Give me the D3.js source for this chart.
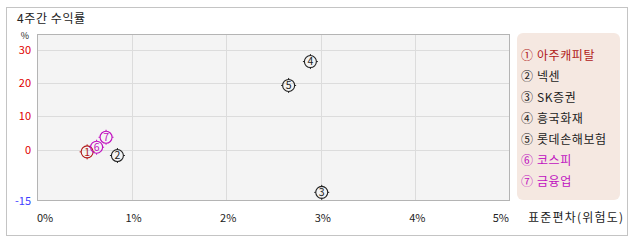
<!DOCTYPE html>
<html>
<head>
<meta charset="utf-8">
<script src="https://cdn.jsdelivr.net/npm/d3@7/dist/d3.min.js"></script>
<style>
  body { margin: 0; background: #fff; }
  text { font-family: "Noto Sans CJK KR", "DejaVu Sans", sans-serif; }
</style>
</head>
<body>
<div id="chart"></div>
<script>
// data
const names = ['아주캐피탈', '넥센', 'SK증권', '흥국화재', '롯데손해보험', '코스피', '금융업'];
const marks = ['①', '②', '③', '④', '⑤', '⑥', '⑦'];
const risk = [0.53, 0.85, 3.01, 2.89, 2.66, 0.63, 0.73];     // 표준편차 (%)
const returns = [-0.7, -1.8, -12.9, 26.5, 19.3, 0.7, 3.7];    // 4주간 수익률 (%)
const colors = ['#b01818', '#222222', '#222222', '#222222', '#222222', '#c010c0', '#c010c0'];
const xTicks = [0, 1, 2, 3, 4, 5];
const yTicks = [30, 20, 10, 0];
const yMinLabel = -15;

const width = 638, height = 242;
const plot = { left: 37, right: 510, top: 34, bottom: 201 };

const svg = d3.select('#chart')
    .append('svg')
    .attr('width', width)
    .attr('height', height);

// outer frame
svg.append('rect')
    .attr('x', 6.5).attr('y', 7.5)
    .attr('width', 621).attr('height', 228)
    .attr('fill', '#fff')
    .attr('stroke', '#c4c4c4');

svg.append('text')
    .attr('x', 17).attr('y', 23)
    .attr('font-size', 12)
    .attr('letter-spacing', 0.6)
    .attr('fill', '#222')
    .text('4주간 수익률');

const x = d3.scaleLinear().domain([0, 5]).range([plot.left, plot.right]);
const y = d3.scaleLinear().domain([-15.5, 34.8]).range([plot.bottom, plot.top]);

svg.append('rect')
    .attr('x', plot.left).attr('y', plot.top)
    .attr('width', plot.right - plot.left).attr('height', plot.bottom - plot.top)
    .attr('fill', '#f4f4f4');

// grid
svg.append('g').selectAll('line')
    .data(xTicks.slice(1, -1))
    .enter().append('line')
    .attr('x1', d => Math.round(x(d)) + 0.5).attr('x2', d => Math.round(x(d)) + 0.5)
    .attr('y1', plot.top).attr('y2', plot.bottom)
    .attr('stroke', '#dcdcdc');

svg.append('g').selectAll('line')
    .data(yTicks)
    .enter().append('line')
    .attr('x1', plot.left).attr('x2', plot.right)
    .attr('y1', d => Math.round(y(d)) + 0.5).attr('y2', d => Math.round(y(d)) + 0.5)
    .attr('stroke', '#dcdcdc');

// plot border
svg.append('rect')
    .attr('x', plot.left + 0.5).attr('y', plot.top + 0.5)
    .attr('width', plot.right - plot.left - 1).attr('height', plot.bottom - plot.top - 1)
    .attr('fill', 'none')
    .attr('stroke', '#b4b4b4');

// y labels
svg.append('text')
    .attr('x', 25).attr('y', 39)
    .attr('text-anchor', 'middle')
    .attr('font-size', 9)
    .attr('fill', '#222')
    .text('%');

svg.append('g').selectAll('text')
    .data(yTicks)
    .enter().append('text')
    .attr('x', 31).attr('y', d => y(d) + 4)
    .attr('text-anchor', 'end')
    .attr('font-size', 11)
    .attr('fill', '#e00000')
    .text(d => d);

svg.append('text')
    .attr('x', 31).attr('y', y(yMinLabel) + 6)
    .attr('text-anchor', 'end')
    .attr('font-size', 11)
    .attr('fill', '#4040ff')
    .text(yMinLabel);

// x labels
svg.append('g').selectAll('text')
    .data(xTicks)
    .enter().append('text')
    .attr('x', (d, i) => i === 0 ? x(d) : i === xTicks.length - 1 ? x(d) - 1 : x(d) + 2)
    .attr('y', 222)
    .attr('text-anchor', (d, i) => i === 0 ? 'start' : i === xTicks.length - 1 ? 'end' : 'middle')
    .attr('font-size', 11)
    .attr('fill', '#222')
    .text(d => d + '%');

svg.append('text')
    .attr('x', 528).attr('y', 222)
    .attr('font-size', 12)
    .attr('letter-spacing', 1.2)
    .attr('fill', '#222')
    .text('표준편차(위험도)');

// points
const pts = svg.append('g').selectAll('g')
    .data(risk.map((r, i) => ({ r, v: returns[i], i })))
    .enter().append('g')
    .attr('transform', d => `translate(${x(d.r)},${y(d.v)})`);

pts.append('circle')
    .attr('r', 6)
    .attr('fill', 'none')
    .attr('stroke', d => colors[d.i])
    .attr('stroke-width', 1.1);

pts.selectAll('line')
    .data(d => [[0, -1], [0, 1], [-1, 0], [1, 0]].map(a => ({ a, c: colors[d.i] })))
    .enter().append('line')
    .attr('x1', d => d.a[0] * 6).attr('y1', d => d.a[1] * 6)
    .attr('x2', d => d.a[0] * 7.5).attr('y2', d => d.a[1] * 7.5)
    .attr('stroke', d => d.c)
    .attr('stroke-width', 1);

pts.append('text')
    .attr('text-anchor', 'middle')
    .attr('y', 3.8)
    .attr('font-size', 10.5)
    .attr('fill', d => colors[d.i])
    .text(d => d.i + 1);

// legend
svg.append('rect')
    .attr('x', 517).attr('y', 33)
    .attr('width', 103).attr('height', 167)
    .attr('rx', 6)
    .attr('fill', '#f5e8e1');

svg.append('g').selectAll('text')
    .data(names)
    .enter().append('text')
    .attr('x', 521)
    .attr('y', (d, i) => 60 + i * 21)
    .attr('font-size', 12)
    .attr('letter-spacing', 0.6)
    .attr('fill', (d, i) => colors[i])
    .text((d, i) => marks[i] + ' ' + d);
</script>
</body>
</html>
